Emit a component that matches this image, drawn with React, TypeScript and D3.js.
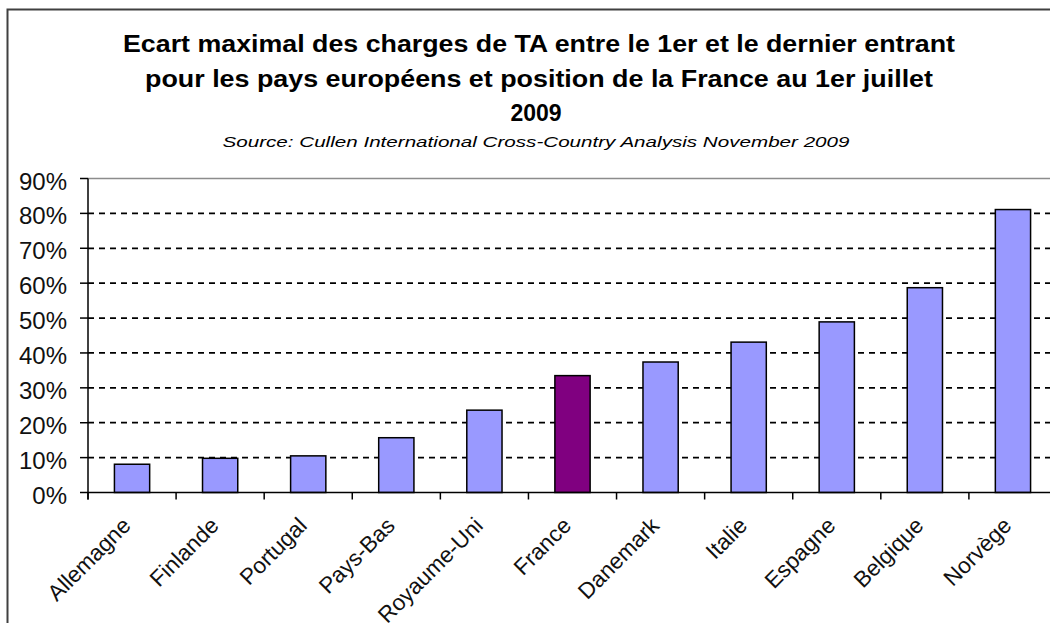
import React from "react";
import * as d3 from "d3";

const countries = [
  "Allemagne",
  "Finlande",
  "Portugal",
  "Pays-Bas",
  "Royaume-Uni",
  "France",
  "Danemark",
  "Italie",
  "Espagne",
  "Belgique",
  "Norvège",
];
const values = [8.1, 9.8, 10.5, 15.7, 23.6, 33.5, 37.4, 43.1, 48.9, 58.7, 81.1];
const highlight = "France";
const yTicks = [0, 10, 20, 30, 40, 50, 60, 70, 80, 90];
const titleLines = [
  "Ecart maximal des charges de TA entre le 1er et le dernier entrant",
  "pour les pays européens et position de la France au 1er juillet",
  "2009",
];
const sourceText = "Source: Cullen International Cross-Country Analysis November 2009";

const W = 1050;
const H = 623;
const plotLeft = 88;
const plotRight = 1057;
const yTop = 178.5;
const yBottom = 492.5;
const FONT = "'Liberation Sans', Arial, sans-serif";

export default function App() {
  const x = d3
    .scaleBand<string>()
    .domain(countries)
    .range([plotLeft, plotRight])
    .paddingInner(0.6)
    .paddingOuter(0.3);
  const step = (plotRight - plotLeft) / countries.length;
  const y = d3.scaleLinear().domain([0, 90]).range([yBottom, yTop]);

  const boundaries = d3.range(countries.length + 1).map((i) => plotLeft + i * step);

  return (
    <svg
      width={W}
      height={H}
      style={{ position: "absolute", left: 0, top: 0, background: "#fff" }}
      fontFamily={FONT}
    >
      <rect x={0} y={0} width={W} height={H} fill="#fff" />
      {/* outer chart border */}
      <rect x={7.5} y={9.5} width={W + 20} height={H + 20} fill="none" stroke="#404040" strokeWidth={2} />

      {/* title */}
      <text x={539} y={52} textAnchor="middle" fontSize={23} fontWeight="bold" textLength={832} lengthAdjust="spacingAndGlyphs">
        {titleLines[0]}
      </text>
      <text x={539} y={87} textAnchor="middle" fontSize={23} fontWeight="bold" textLength={788} lengthAdjust="spacingAndGlyphs">
        {titleLines[1]}
      </text>
      <text x={536} y={121} textAnchor="middle" fontSize={23} fontWeight="bold">
        {titleLines[2]}
      </text>
      <text x={536} y={147} textAnchor="middle" fontSize={14.5} fontStyle="italic" textLength={627} lengthAdjust="spacingAndGlyphs">
        {sourceText}
      </text>

      {/* plot top border */}
      <line x1={plotLeft} x2={plotRight} y1={yTop} y2={yTop} stroke="#8c8c8c" strokeWidth={1.5} />

      {/* gridlines */}
      {yTicks
        .filter((t) => t > 0 && t < 90)
        .map((t) => (
          <line
            key={"g" + t}
            x1={plotLeft}
            x2={plotRight}
            y1={y(t)}
            y2={y(t)}
            stroke="#000"
            strokeWidth={1.8}
            strokeDasharray="6,5"
          />
        ))}

      {/* bars */}
      {countries.map((c, i) => (
        <rect
          key={c}
          x={x(c)}
          y={y(values[i])}
          width={x.bandwidth()}
          height={yBottom - y(values[i])}
          fill={c === highlight ? "#800080" : "#9999FF"}
          stroke="#000"
          strokeWidth={1.5}
        />
      ))}

      {/* y axis */}
      <line x1={plotLeft} x2={plotLeft} y1={yTop} y2={yBottom + 7} stroke="#000" strokeWidth={1.5} />
      {yTicks.map((t) => (
        <g key={"y" + t}>
          <line x1={plotLeft - 8} x2={plotLeft} y1={y(t)} y2={y(t)} stroke="#000" strokeWidth={1.5} />
          <text x={67} y={y(t) + 11} textAnchor="end" fontSize={24} fill="#111">
            {t}%
          </text>
        </g>
      ))}

      {/* x axis */}
      <line x1={plotLeft} x2={plotRight} y1={yBottom} y2={yBottom} stroke="#000" strokeWidth={1.5} />
      {boundaries.map((b, i) => (
        <line key={"t" + i} x1={b} x2={b} y1={yBottom} y2={yBottom + 7} stroke="#000" strokeWidth={1.5} />
      ))}
      {countries.map((c) => {
        const cx = (x(c) as number) + x.bandwidth() / 2;
        const ax = cx;
        const ay = 527;
        return (
          <text
            key={"l" + c}
            x={ax}
            y={ay}
            textAnchor="end"
            fontSize={22.5}
            fill="#111"
            transform={`rotate(-45 ${ax} ${ay})`}
          >
            {c}
          </text>
        );
      })}
    </svg>
  );
}
